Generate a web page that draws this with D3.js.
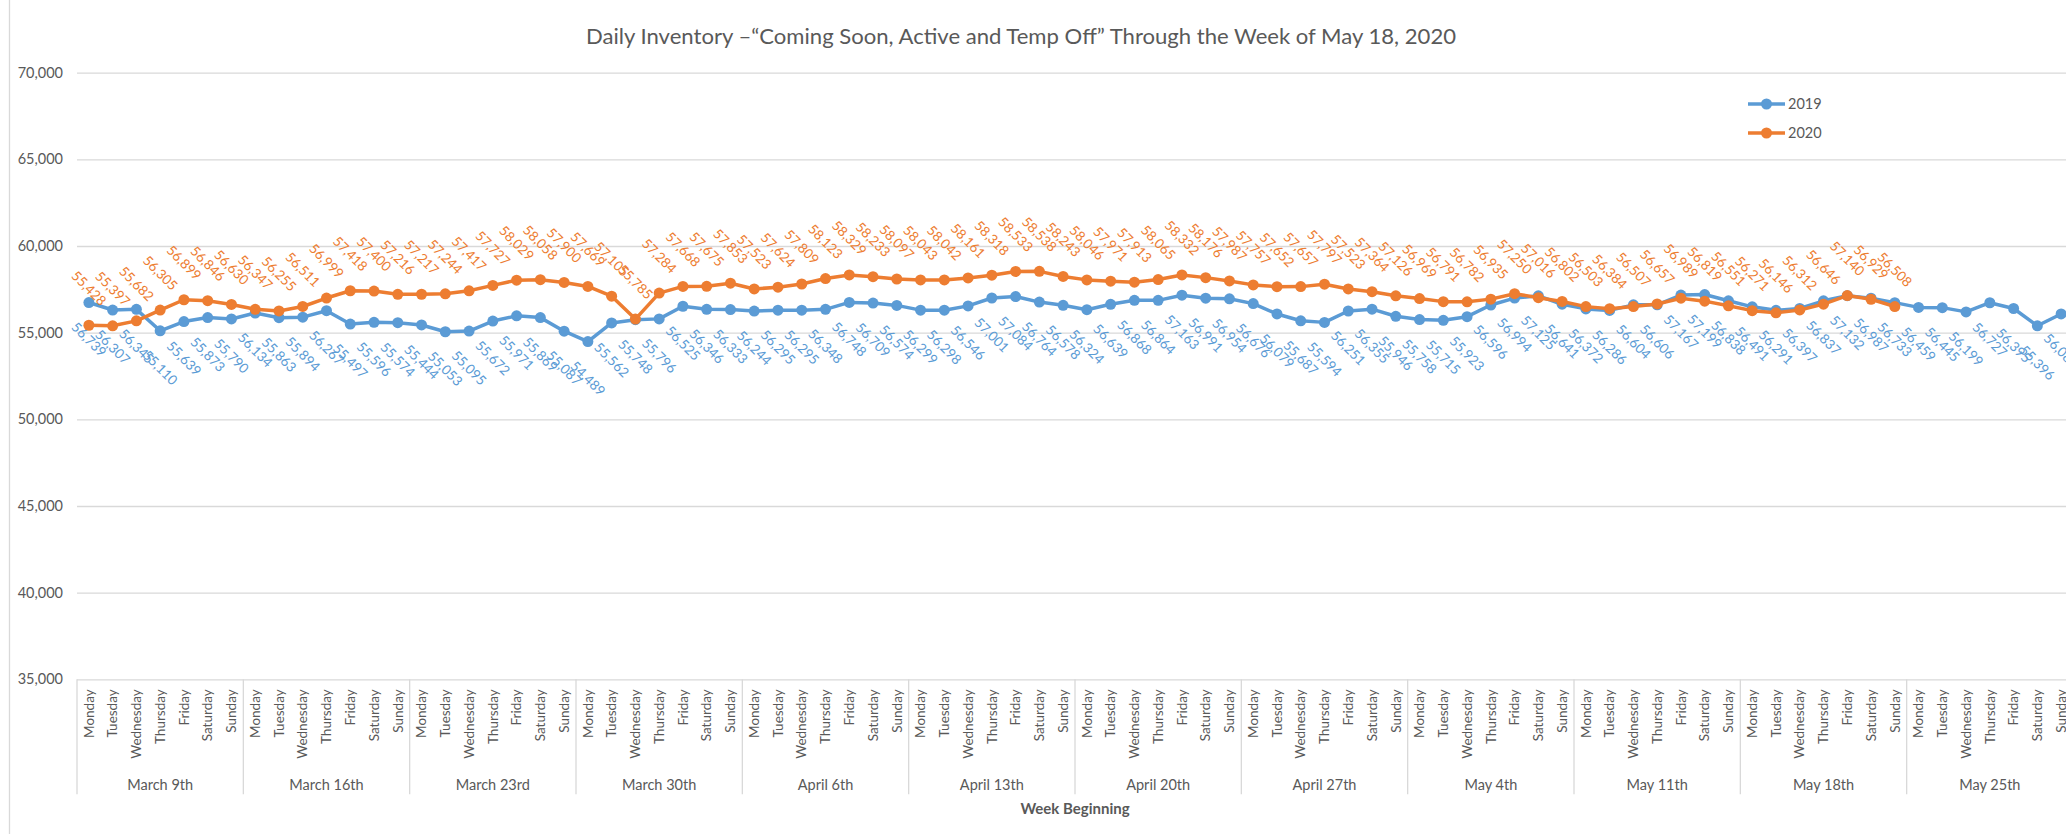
<!DOCTYPE html>
<html>
<head>
<meta charset="utf-8">
<script src="https://cdnjs.cloudflare.com/ajax/libs/d3/7.8.5/d3.min.js"></script>
<style>
    body { margin: 0; background: #ffffff; }
    #chart-area { width: 2066px; height: 834px; overflow: hidden; }
    text { font-family: Lato, "Open Sans", sans-serif; }
</style>
</head>
<body>
<div id="chart-area"></div>
<script>
// Chart values
const weekdays = ["Monday", "Tuesday", "Wednesday", "Thursday", "Friday", "Saturday", "Sunday"];
const weeks = ["March 9th", "March 16th", "March 23rd", "March 30th", "April 6th", "April 13th",
    "April 20th", "April 27th", "May 4th", "May 11th", "May 18th", "May 25th"];

const values2019 = [
    56739, 56307, 56345, 55110, 55639, 55873, 55790,
    56134, 55863, 55894, 56267, 55497, 55596, 55574,
    55444, 55053, 55095, 55672, 55971, 55869, 55087,
    54489, 55562, 55748, 55796, 56525, 56346, 56333,
    56244, 56295, 56295, 56348, 56748, 56709, 56574,
    56299, 56298, 56546, 57001, 57084, 56764, 56578,
    56324, 56639, 56868, 56864, 57163, 56991, 56954,
    56676, 56079, 55687, 55594, 56251, 56355, 55946,
    55758, 55715, 55923, 56596, 56994, 57125, 56641,
    56372, 56286, 56604, 56606, 57167, 57199, 56838,
    56491, 56291, 56397, 56837, 57132, 56987, 56733,
    56459, 56445, 56199, 56727, 56395, 55396, 56080
];

const values2020 = [
    55428, 55397, 55682, 56305, 56899, 56846, 56630,
    56347, 56255, 56511, 56999, 57418, 57400, 57216,
    57217, 57244, 57417, 57727, 58029, 58058, 57900,
    57669, 57105, 55785, 57284, 57668, 57675, 57853,
    57523, 57624, 57809, 58123, 58329, 58233, 58097,
    58043, 58042, 58161, 58318, 58533, 58538, 58243,
    58046, 57971, 57913, 58065, 58332, 58176, 57987,
    57757, 57652, 57657, 57797, 57523, 57364, 57126,
    56969, 56791, 56782, 56935, 57250, 57016, 56802,
    56503, 56384, 56507, 56657, 56989, 56819, 56551,
    56271, 56146, 56312, 56646, 57140, 56929, 56508
];

const seriesNames = ["2019", "2020"];
const yTicks = [35000, 40000, 45000, 50000, 55000, 60000, 65000, 70000];

class InventoryVis {
    constructor(parentElement) {
        this.parentElement = parentElement;
        this.series = [
            { name: seriesNames[0], values: values2019, color: "#5b9bd5", labelOffset: 37 },
            { name: seriesNames[1], values: values2020, color: "#ed7d31", labelOffset: -37 }
        ];
        this.initVis();
    }

    initVis() {
        let vis = this;

        vis.margin = { top: 72.7, left: 77 };
        vis.width = 1996;
        vis.height = 606.6;

        vis.svg = d3.select("#" + vis.parentElement).append("svg")
            .attr("width", 2066)
            .attr("height", 834);

        // chart border (left edge visible)
        vis.svg.append("line")
            .attr("x1", 9.5).attr("x2", 9.5)
            .attr("y1", 0).attr("y2", 834)
            .attr("stroke", "#d9d9d9")
            .attr("stroke-width", 1.3);

        // Title
        vis.svg.append("text")
            .attr("x", 1021)
            .attr("y", 44)
            .attr("text-anchor", "middle")
            .attr("font-size", 21)
            .attr("fill", "#595959")
            .attr("textLength", 870)
            .attr("lengthAdjust", "spacingAndGlyphs")
            .text("Daily Inventory \u2013\u201cComing Soon, Active and Temp Off\u201d Through the Week of May 18, 2020");

        vis.g = vis.svg.append("g")
            .attr("transform", "translate(" + vis.margin.left + "," + vis.margin.top + ")");

        // Scales
        vis.dayIndex = d3.range(weeks.length * weekdays.length);
        vis.x = d3.scaleBand()
            .domain(vis.dayIndex)
            .range([0, vis.width]);

        vis.y = d3.scaleLinear()
            .domain([35000, 70000])
            .range([vis.height, 0]);

        // Y axis with gridlines
        vis.yAxis = d3.axisLeft(vis.y)
            .tickValues(yTicks)
            .tickFormat(d3.format(","))
            .tickSize(-2100)
            .tickPadding(14);

        vis.g.append("g")
            .attr("class", "y-axis")
            .call(vis.yAxis)
            .call(g => g.select(".domain").remove())
            .call(g => g.selectAll("line").attr("stroke", "#d9d9d9").attr("stroke-width", 1.3))
            .call(g => g.selectAll("text")
                .attr("fill", "#595959")
                .attr("font-size", 14.5)
                .attr("font-family", "Lato, 'Open Sans', sans-serif"));

        vis.wrangleData();
    }

    wrangleData() {
        let vis = this;

        vis.displaySeries = vis.series.map(s => ({
            name: s.name,
            color: s.color,
            labelOffset: s.labelOffset,
            points: s.values.map((v, i) => ({ i: i, value: v }))
        }));

        vis.updateVis();
    }

    updateVis() {
        let vis = this;
        let bw = vis.x.bandwidth();
        let cx = i => vis.x(i) + bw / 2;

        // Category axis: weekday labels
        vis.g.append("g")
            .attr("class", "day-labels")
            .selectAll("text")
            .data(vis.dayIndex)
            .enter().append("text")
            .attr("transform", d => "translate(" + cx(d) + "," + (vis.height + 10) + ") rotate(-90)")
            .attr("text-anchor", "end")
            .attr("dy", "0.35em")
            .attr("font-size", 13.5)
            .attr("fill", "#595959")
            .text(d => weekdays[d % weekdays.length]);

        // Week separators
        vis.g.append("g")
            .selectAll("line")
            .data(d3.range(weeks.length + 1))
            .enter().append("line")
            .attr("x1", d => d * bw * weekdays.length)
            .attr("x2", d => d * bw * weekdays.length)
            .attr("y1", vis.height)
            .attr("y2", vis.height + 115)
            .attr("stroke", "#d9d9d9")
            .attr("stroke-width", 1.3);

        // Week labels
        vis.g.append("g")
            .selectAll("text")
            .data(weeks)
            .enter().append("text")
            .attr("x", (d, i) => vis.x(i * weekdays.length) + bw * weekdays.length / 2)
            .attr("y", vis.height + 111)
            .attr("text-anchor", "middle")
            .attr("font-size", 14.5)
            .attr("fill", "#595959")
            .text(d => d);

        // X axis title
        vis.g.append("text")
            .attr("x", vis.width / 2)
            .attr("y", vis.height + 135)
            .attr("text-anchor", "middle")
            .attr("font-size", 15)
            .attr("font-weight", "bold")
            .attr("fill", "#595959")
            .text("Week Beginning");

        // Lines and markers
        let line = d3.line()
            .x(d => cx(d.i))
            .y(d => vis.y(d.value));

        vis.displaySeries.forEach(s => {
            let sg = vis.g.append("g").attr("class", "series");
            sg.append("path")
                .datum(s.points)
                .attr("d", line)
                .attr("fill", "none")
                .attr("stroke", s.color)
                .attr("stroke-width", 3.5)
                .attr("stroke-linejoin", "round");
            sg.selectAll("circle")
                .data(s.points)
                .enter().append("circle")
                .attr("cx", d => cx(d.i))
                .attr("cy", d => vis.y(d.value))
                .attr("r", 5.5)
                .attr("fill", s.color);
        });

        // Data labels
        vis.displaySeries.forEach(s => {
            vis.g.append("g")
                .selectAll("text")
                .data(s.points)
                .enter().append("text")
                .attr("transform", d => "translate(" + cx(d.i) + "," + (vis.y(d.value) + s.labelOffset) + ") rotate(45)")
                .attr("text-anchor", "middle")
                .attr("dy", "0.35em")
                .attr("font-size", 13.5)
                .attr("fill", s.color)
                .text(d => d3.format(",")(d.value));
        });

        // Legend
        let legend = vis.svg.append("g")
            .selectAll("g")
            .data(vis.displaySeries)
            .enter().append("g")
            .attr("transform", (d, i) => "translate(1748," + (104 + i * 29) + ")");
        legend.append("line")
            .attr("x1", 0).attr("x2", 37)
            .attr("stroke", d => d.color)
            .attr("stroke-width", 3.5);
        legend.append("circle")
            .attr("cx", 18.5)
            .attr("r", 5.5)
            .attr("fill", d => d.color);
        legend.append("text")
            .attr("x", 40)
            .attr("dy", "0.35em")
            .attr("font-size", 14.5)
            .attr("fill", "#595959")
            .text(d => d.name);
    }
}

new InventoryVis("chart-area");
</script>
</body>
</html>
